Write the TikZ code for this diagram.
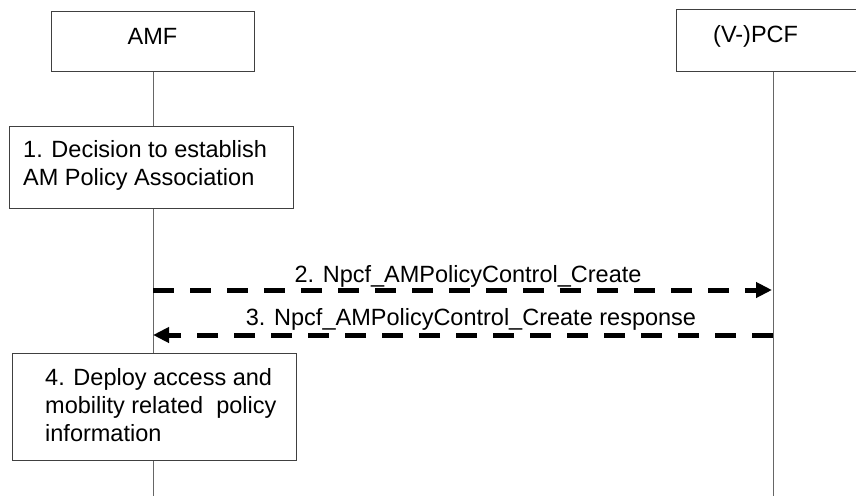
\documentclass[tikz,border=0pt]{standalone}
\usepackage{fontspec}
\setmainfont{Liberation Sans}
\usetikzlibrary{arrows.meta}
\begin{document}
\begin{tikzpicture}[x=1pt,y=-1pt,
  box/.style={draw=black!75, line width=1pt, fill=white, inner sep=0pt},
  life/.style={draw=black!60, line width=1pt},
  msg/.style={line width=5pt, dash pattern=on 21pt off 16pt, -{Triangle[length=16pt,width=15pt]}},
  lbl/.style={font=\fontsize{23.5}{28}\selectfont, inner sep=0pt, align=left}]
\useasboundingbox (0,0) rectangle (856,496);
% lifelines
\coordinate (amftop) at (153,71);
\coordinate (amfbot) at (153,496);
\coordinate (pcftop) at (773,71);
\coordinate (pcfbot) at (773,496);
\draw[life] (amftop) -- (amfbot);
\draw[life] (pcftop) -- (pcfbot);
% header boxes
\node[box, minimum width=203pt, minimum height=60pt, text depth=9pt, font=\fontsize{23.5}{28}\selectfont] (amf) at (152.5,41) {AMF};
\node[box, minimum width=194pt, minimum height=62pt] (pcf) at (773,40) {};
\node[lbl, anchor=base west] (pcft) at (713,42) {(V-)PCF};
% step boxes
\node[box, minimum width=284pt, minimum height=82pt] (s1) at (151,167) {};
\node[lbl, anchor=north west] (s1t) at (23,140) {1. Decision to establish\\AM Policy Association};
\node[box, minimum width=284pt, minimum height=107pt] (s4) at (154,406.5) {};
\node[lbl, anchor=north west] (s4t) at (45,368) {4. Deploy access and\\mobility related\ \ policy\\information};
% messages
\coordinate (m2a) at (153,290);
\coordinate (m2b) at (772,290);
\coordinate (m3a) at (773,335);
\coordinate (m3b) at (153,335);
\draw[msg] (m2a) -- (m2b);
\draw[msg] (m3a) -- (m3b);
\node[lbl, anchor=base] (l2) at (468,282) {2. Npcf\_AMPolicyControl\_Create};
\node[lbl, anchor=base] (l3) at (471,325) {3. Npcf\_AMPolicyControl\_Create response};
\end{tikzpicture}
\end{document}
